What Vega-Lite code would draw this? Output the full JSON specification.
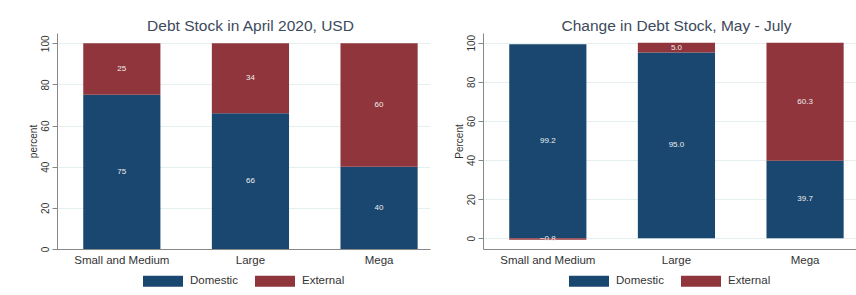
{
  "$schema": "https://vega.github.io/schema/vega-lite/v6.json",
  "padding": {"left": 28, "top": 18, "right": 0, "bottom": 0},
  "background": "white",
  "spacing": 24,
  "datasets": {
    "april": [
      {"size": "Small and Medium", "type": "Domestic", "value": 75},
      {"size": "Small and Medium", "type": "External", "value": 25},
      {"size": "Large", "type": "Domestic", "value": 66},
      {"size": "Large", "type": "External", "value": 34},
      {"size": "Mega", "type": "Domestic", "value": 40},
      {"size": "Mega", "type": "External", "value": 60}
    ],
    "change": [
      {"size": "Small and Medium", "type": "Domestic", "value": 99.2},
      {"size": "Small and Medium", "type": "External", "value": -0.8},
      {"size": "Large", "type": "Domestic", "value": 95.0},
      {"size": "Large", "type": "External", "value": 5.0},
      {"size": "Mega", "type": "Domestic", "value": 39.7},
      {"size": "Mega", "type": "External", "value": 60.3}
    ]
  },
  "hconcat": [
    {
      "width": 373,
      "height": 216,
      "data": {"name": "april"},
      "title": {"text": "Debt Stock in April 2020, USD", "dx": 7},
      "transform": [
        {"stack": "value", "groupby": ["size"], "sort": [{"field": "type", "order": "ascending"}], "as": ["v0", "v1"]},
        {"calculate": "(datum.v0 + datum.v1) / 2", "as": "mid"}
      ],
      "encoding": {
        "x": {"field": "size", "type": "nominal", "sort": ["Small and Medium", "Large", "Mega"], "title": null,
              "scale": {"paddingInner": 0.4, "paddingOuter": 0.15, "align": 0.68}}
      },
      "layer": [
        {
          "mark": {"type": "bar", "opacity": 1},
          "encoding": {
            "y": {"field": "v0", "type": "quantitative", "title": "percent",
                  "scale": {"domain": [0, 105], "nice": false, "zero": false},
                  "axis": {"values": [0, 20, 40, 60, 80, 100]}},
            "y2": {"field": "v1"},
            "color": {"field": "type", "type": "nominal", "title": null,
                      "scale": {"domain": ["Domestic", "External"], "range": ["#1a476f", "#90353b"]}}
          }
        },
        {
          "mark": {"type": "text", "color": "#eeeeee", "fontSize": 8, "font": "Liberation Sans"},
          "encoding": {
            "y": {"field": "mid", "type": "quantitative"},
            "text": {"field": "value", "type": "quantitative", "format": ".0f"}
          }
        }
      ]
    },
    {
      "width": 373,
      "height": 216,
      "data": {"name": "change"},
      "title": {"text": "Change in Debt Stock, May - July", "dx": 7},
      "transform": [
        {"stack": "value", "groupby": ["size"], "sort": [{"field": "type", "order": "ascending"}], "as": ["v0", "v1"]},
        {"calculate": "(datum.v0 + datum.v1) / 2", "as": "mid"}
      ],
      "encoding": {
        "x": {"field": "size", "type": "nominal", "sort": ["Small and Medium", "Large", "Mega"], "title": null,
              "scale": {"paddingInner": 0.4, "paddingOuter": 0.15, "align": 0.68}}
      },
      "layer": [
        {
          "mark": {"type": "bar", "opacity": 1},
          "encoding": {
            "y": {"field": "v0", "type": "quantitative", "title": "Percent",
                  "scale": {"domain": [-5.5, 105], "nice": false, "zero": false},
                  "axis": {"values": [0, 20, 40, 60, 80, 100]}},
            "y2": {"field": "v1"},
            "color": {"field": "type", "type": "nominal", "title": null,
                      "scale": {"domain": ["Domestic", "External"], "range": ["#1a476f", "#90353b"]}}
          }
        },
        {
          "mark": {"type": "text", "color": "#eeeeee", "fontSize": 8, "font": "Liberation Sans"},
          "encoding": {
            "y": {"field": "mid", "type": "quantitative"},
            "text": {"field": "value", "type": "quantitative", "format": ".1f"}
          }
        }
      ]
    }
  ],
  "resolve": {"scale": {"color": "independent", "y": "independent", "x": "independent"}, "legend": {"color": "independent"}},
  "config": {
    "font": "Liberation Sans",
    "view": {"stroke": null},
    "title": {"fontSize": 15.5, "fontWeight": "normal", "color": "#3c4a5c", "anchor": "middle", "offset": -1},
    "axis": {"labelColor": "#333333", "titleColor": "#333333", "domainColor": "#888888", "tickColor": "#888888",
             "labelFont": "Liberation Sans", "titleFont": "Liberation Sans", "titleFontWeight": "normal"},
    "axisY": {"grid": true, "gridColor": "#e6eff0", "labelAngle": 270, "labelAlign": "center", "labelBaseline": "bottom",
              "labelFontSize": 10, "titleFontSize": 10, "tickSize": 5, "labelPadding": 2,
              "minExtent": 16, "maxExtent": 16, "titlePadding": 3, "domain": true},
    "axisX": {"grid": false, "ticks": false, "labelAngle": 0, "labelFontSize": 11.5, "labelPadding": 5, "domain": true},
    "legend": {"orient": "bottom", "direction": "horizontal", "offset": -5,
               "symbolType": "M-1,-0.275H1V0.275H-1Z", "symbolSize": 1600, "symbolStrokeWidth": 0, "symbolOpacity": 1,
               "labelFontSize": 11.5, "labelColor": "#333333", "labelOffset": 7, "columnPadding": 17,
               "layout": {"bottom": {"anchor": "middle"}}}
  }
}
